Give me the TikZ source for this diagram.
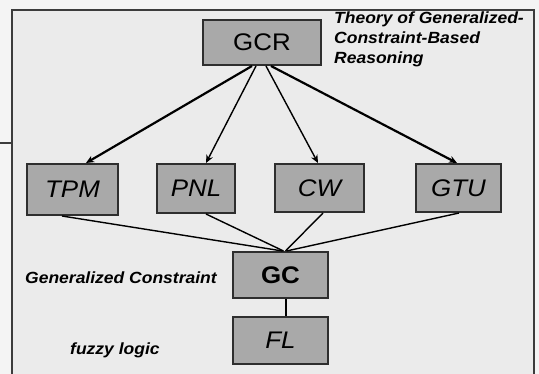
\documentclass[tikz,border=0pt]{standalone}
\usepackage{fontspec}
\setmainfont{Liberation Sans}[FakeStretch=1.08]
\usetikzlibrary{arrows.meta}
\definecolor{bgout}{HTML}{F4F4F4}
\definecolor{bgin}{HTML}{EBEBEB}
\definecolor{frame}{HTML}{3C3C3C}
\definecolor{boxfill}{HTML}{A9A9A9}
\definecolor{boxline}{HTML}{2E2E2E}
\tikzset{
  box/.style={draw=boxline, line width=2pt, fill=boxfill, inner sep=0pt, font=\fontsize{24}{26}\selectfont},
  sidetext/.style={font=\fontsize{16.2}{20}\selectfont\bfseries\itshape, inner sep=0pt},
  arr/.style={-{Stealth[length=8pt,width=7pt]}, line width=1.4pt},
  thickarr/.style={-{Stealth[length=8pt,width=7pt]}, line width=2.2pt},
  link/.style={line width=1.4pt},
}
\begin{document}
\begin{tikzpicture}[x=1pt,y=-1pt]
\useasboundingbox (0,0) rectangle (539,374);
\fill[bgout] (0,0) rectangle (539,374);
\fill[bgin] (12,10) rectangle (534,380);
\draw[frame, line width=2.6pt] (12,380) -- (12,10) -- (534,10) -- (534,380);
\coordinate (stubL) at (0,143);
\coordinate (stubR) at (12,143);
\draw[frame, line width=1.8pt] (stubL) -- (stubR);

\node[box, minimum width=118pt, minimum height=45pt] (gcr) at (262,42.5) {GCR};
\node[box, minimum width=91pt, minimum height=51pt] (tpm) at (72.5,189.5) {\itshape TPM};
\node[box, minimum width=78pt, minimum height=49pt] (pnl) at (196,188.5) {\itshape PNL};
\node[box, minimum width=89pt, minimum height=48pt] (cw) at (319.5,188) {\itshape CW};
\node[box, minimum width=85pt, minimum height=48pt] (gtu) at (458.5,188) {\itshape GTU};
\node[box, minimum width=95pt, minimum height=46pt] (gc) at (280.5,275) {\bfseries GC};
\node[box, minimum width=95pt, minimum height=47pt] (fl) at (280.5,340.5) {\itshape FL};

\node[sidetext, anchor=north west, align=left] (theory) at (334,12) {Theory of Generalized-\\Constraint-Based\\Reasoning};
\node[sidetext, anchor=west] (gclabel) at (25,278) {Generalized Constraint};
\node[sidetext, anchor=west] (fllabel) at (70,350) {fuzzy logic};

\draw[thickarr] ([xshift=-10pt]gcr.south) -- ([xshift=13.5pt]tpm.north);
\draw[arr] ([xshift=-6pt]gcr.south) -- ([xshift=10pt]pnl.north);
\draw[arr] ([xshift=4pt]gcr.south) -- ([xshift=-1.5pt]cw.north);
\draw[thickarr] ([xshift=9pt]gcr.south) -- ([xshift=-1.5pt]gtu.north);

\draw[link] ([xshift=-10.5pt]tpm.south) -- ([xshift=2pt]gc.north);
\draw[link] ([xshift=10pt]pnl.south) -- ([xshift=3pt]gc.north);
\draw[link] ([xshift=3.5pt]cw.south) -- ([xshift=5pt]gc.north);
\draw[link] ([xshift=0.5pt]gtu.south) -- ([xshift=6pt]gc.north);
\draw[link] ([xshift=5.5pt]gc.south) -- ([xshift=5.5pt]fl.north);
\end{tikzpicture}
\end{document}
